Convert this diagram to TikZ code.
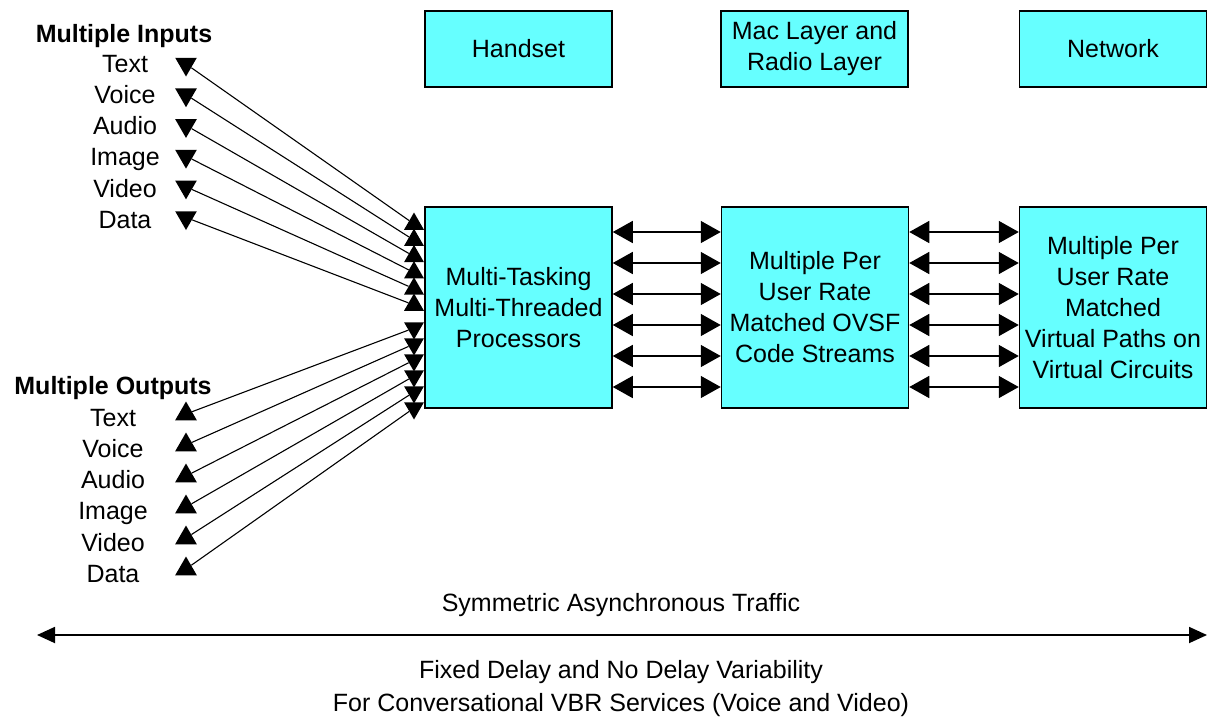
\documentclass[tikz,border=0pt]{standalone}
\usepackage{fontspec}
\setmainfont{Liberation Sans}
\usetikzlibrary{arrows.meta,shapes.geometric}
\definecolor{boxcyan}{RGB}{102,255,255}

\begin{document}
\begin{tikzpicture}[x=1pt,y=-1pt,
  every node/.style={font=\fontsize{25}{31}\selectfont},
  block/.style={draw=black,line width=1.5pt,fill=boxcyan,align=center,inner sep=0pt,minimum width=187pt},
  toplayer/.style={block,minimum height=76pt},
  engine/.style={block,minimum height=201pt},
  lbl/.style={inner sep=0pt,text height=18pt,text depth=0pt},
  title/.style={lbl,font=\fontsize{25}{31}\selectfont\bfseries},
  tridown/.style={regular polygon,regular polygon sides=3,shape border rotate=180,fill=black,inner sep=0pt,minimum size=#1},
  tridown/.default=25pt,
  triup/.style={regular polygon,regular polygon sides=3,fill=black,inner sep=0pt,minimum size=#1},
  triup/.default=23pt,
  feed/.style={line width=1.1pt},
  link/.style={line width=1.5pt,{Triangle[length=20pt,width=22pt]}-{Triangle[length=20pt,width=22pt]}},
  span/.style={line width=1.8pt,{Triangle[length=18pt,width=16pt]}-{Triangle[length=18pt,width=16pt]}},
]
\useasboundingbox (0,0) rectangle (1210,718);

% layer headings
\node[toplayer] (hs)  at (518.5,49) {Handset};
\node[toplayer] (mac) at (814.5,49) {Mac Layer and\\Radio Layer};
\node[toplayer] (net) at (1113,49)  {Network};

% processing blocks
\node[engine] (b1) at (518.5,307.5) {Multi-Tasking\\Multi-Threaded\\Processors};
\node[engine] (b2) at (815,307.5)   {Multiple Per\\User Rate\\Matched OVSF\\Code Streams};
\node[engine] (b3) at (1113,307.5)  {Multiple Per\\User Rate\\Matched\\Virtual Paths on\\Virtual Circuits};

% per-stream links between the blocks
\foreach \d in {75.5,44.5,13.5,-17.5,-48.5,-79.5}{
  \draw[link] ([yshift=\d pt]b1.east) -- ([yshift=\d pt]b2.west);
  \draw[link] ([yshift=\d pt]b2.east) -- ([yshift=\d pt]b3.west);
}

% inputs
\node[title] (inT) at (124,33) {Multiple Inputs};
\foreach \n/\t [count=\i from 0] in {iText/Text,iVoice/Voice,iAudio/Audio,iImage/Image,iVideo/Video,iData/Data}{
  \node[lbl] (\n) at (125,63+31.3*\i) {\t};
  \node[tridown] (\n s) at (186,64+30.7*\i) {};
  \node[triup] (\n d) at (414,224+16.2*\i) {};
  \draw[feed] (\n s) -- (\n d);
}

% outputs
\node[title] (outT) at (113,385) {Multiple Outputs};
\foreach \n/\t [count=\i from 0] in {oText/Text,oVoice/Voice,oAudio/Audio,oImage/Image,oVideo/Video,oData/Data}{
  \node[lbl] (\n) at (113,417+31.3*\i) {\t};
  \node[triup=25pt] (\n d) at (186,414+31*\i) {};
  \node[tridown=23pt] (\n s) at (414,328+16*\i) {};
  \draw[feed] (\n s) -- (\n d);
}

% end-to-end traffic
\coordinate (aL) at (37,635);
\coordinate (aR) at (1207,635);
\draw[span] (aL) -- (aR);
\node[lbl] (sym) at (621,602) {Symmetric Asynchronous Traffic};
\node[align=center,inner sep=0pt,font=\fontsize{25}{33}\selectfont] (fix) at (621,689)
  {Fixed Delay and No Delay Variability\\For Conversational VBR Services (Voice and Video)};
\end{tikzpicture}
\end{document}
